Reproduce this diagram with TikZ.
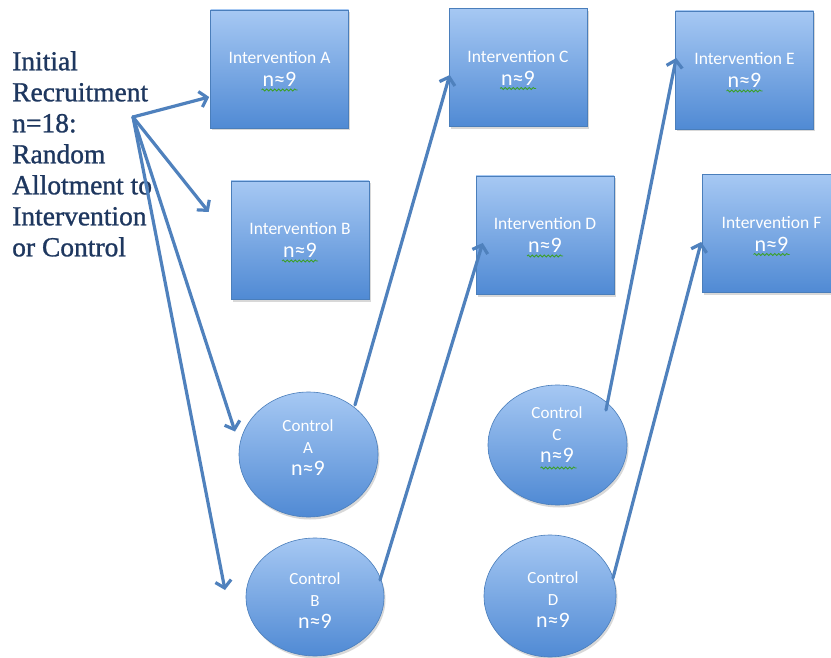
\documentclass[tikz,border=0pt]{standalone}
\usepackage{fontspec}
\usetikzlibrary{arrows.meta,shapes.geometric,shadows,calc,decorations.pathmorphing}
\setmainfont{Carlito}
\newfontfamily\lblfont[FakeBold=1]{Liberation Serif}
\definecolor{arrowblue}{RGB}{79,129,189}
\definecolor{boxtop}{RGB}{166,200,243}
\definecolor{boxbot}{RGB}{80,138,212}
\definecolor{boxedge}{RGB}{74,126,187}
\definecolor{lbltext}{RGB}{30,55,95}
\definecolor{wavegreen}{RGB}{60,160,40}
\tikzset{
  ibox/.style={rectangle, draw=boxedge, line width=0.6pt, top color=boxtop, bottom color=boxbot,
    minimum width=138pt, minimum height=118pt, inner sep=0pt, text=white, align=center,
    font=\fontsize{17.5}{23}\selectfont,
    drop shadow={opacity=0.3, shadow xshift=1.5pt, shadow yshift=-2.5pt}},
  cbox/.style={ellipse, draw=boxedge, line width=0.6pt, top color=boxtop, bottom color=boxbot,
    inner sep=0pt, drop shadow={opacity=0.3, shadow xshift=1.5pt, shadow yshift=-2.5pt}},
  ctext/.style={text=white, align=center, inner sep=0pt, font=\fontsize{17}{22}\selectfont},
  arr/.style={draw=arrowblue, line width=3.2pt, line cap=round, -{Straight Barb[length=7pt,width=16pt]}},
  wavy/.style={draw=wavegreen, line width=0.8pt, decorate, decoration={snake, amplitude=1pt, segment length=4pt}}
}
\newcommand\boxtxt[1]{Intervention #1\\\fontsize{22}{23}\selectfont n≈9}
\newcommand\ctltxt[1]{Control\\#1\\\fontsize{22}{22}\selectfont n≈9}
\newcommand\wavebelow[2]{\draw[wavy] ($(#1.center)+(-18,#2)$) -- ($(#1.center)+(18,#2)$);}
\begin{document}
\begin{tikzpicture}[x=1pt,y=-1pt]
\useasboundingbox (0,0) rectangle (831,658);
\fill[white] (0,0) rectangle (831,658);

% left text
\node[anchor=north west, align=left, inner sep=0pt, text=lbltext,
      font=\lblfont\fontsize{27.5}{31}\selectfont] (intro) at (12,51)
  {Initial\\Recruitment\\n=18:\\Random\\Allotment to\\Intervention\\or Control};

% intervention boxes
\node[ibox] (boxA) at (279.5,69) {\boxtxt{A}};
\node[ibox] (boxB) at (300,240) {\boxtxt{B}};
\node[ibox] (boxC) at (518,67.5) {\boxtxt{C}};
\node[ibox] (boxD) at (545,235) {\boxtxt{D}};
\node[ibox] (boxE) at (744.5,70) {\boxtxt{E}};
\node[ibox] (boxF) at (771.5,233.5) {\boxtxt{F}};

% control ellipses
\node[cbox, minimum width=139pt, minimum height=125pt] (ctrlA) at (308.5,454.5) {};
\node[cbox, minimum width=138pt, minimum height=118pt] (ctrlB) at (315,597) {};
\node[cbox, minimum width=139pt, minimum height=120pt] (ctrlC) at (557.5,445) {};
\node[cbox, minimum width=132pt, minimum height=122pt] (ctrlD) at (550,596) {};

\node[ctext] (txtA) at (308,448) {\ctltxt{A}};
\node[ctext] (txtB) at (315,601) {\ctltxt{B}};
\node[ctext] (txtC) at (557,435) {\ctltxt{C}};
\node[ctext] (txtD) at (553,600) {\ctltxt{D}};

% spell-check underlines
\wavebelow{boxA}{21}
\wavebelow{boxB}{21}
\wavebelow{boxC}{21}
\wavebelow{boxD}{21}
\wavebelow{boxE}{21}
\wavebelow{boxF}{21}
\draw[wavy] ($(ctrlC.center)+(-17,23)$) -- ($(ctrlC.center)+(19,23)$);

% fan-out arrows
\coordinate (src) at (133,117);
\draw[arr] (src) -- ($(boxA.west)+(-1,28)$);
\draw[arr] (src) -- ($(boxB.west)+(-22,-28)$);
\draw[arr] (src) -- ($(ctrlA.center)+(-73.5,-23)$);
\draw[arr] (src) -- ($(ctrlB.center)+(-90,-7)$);

% control to intervention arrows
\draw[arr] ($(ctrlA.center)+(46.5,-49.5)$) -- ($(boxC.west)+(1,7.5)$);
\draw[arr] ($(ctrlB.center)+(65,-17)$) -- ($(boxD.west)+(7,8)$);
\draw[arr] ($(ctrlC.center)+(48.5,-35)$) -- ($(boxE.west)+(1,-12)$);
\draw[arr] ($(ctrlD.center)+(63,-18)$) -- ($(boxF.west)+(-1,8.5)$);
\end{tikzpicture}
\end{document}
